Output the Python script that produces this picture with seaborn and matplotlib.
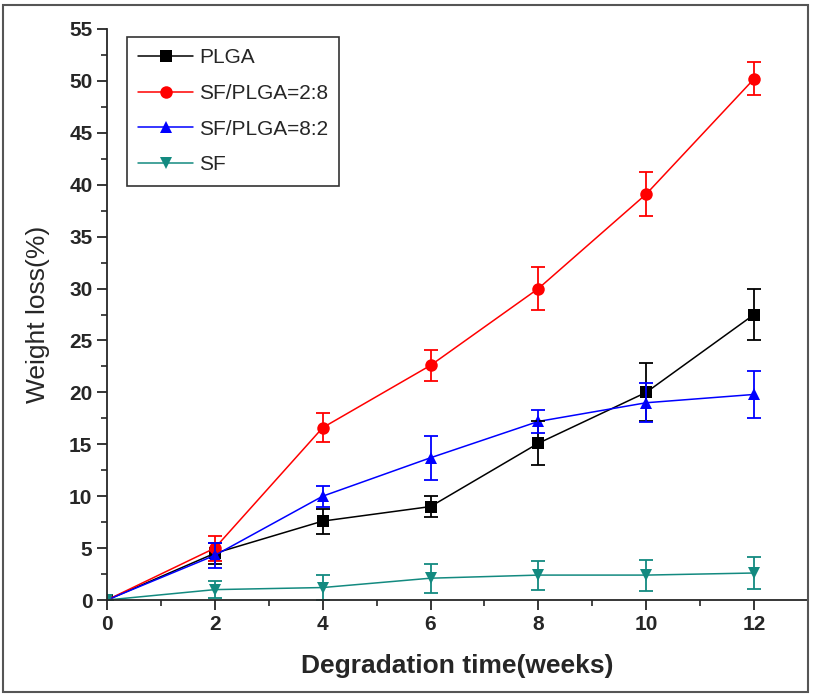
import numpy as np
import pandas as pd
import matplotlib
matplotlib.use("Agg")
import matplotlib.pyplot as plt
import seaborn as sns
from matplotlib.patches import Rectangle
from matplotlib.ticker import MultipleLocator
from matplotlib.lines import Line2D

weeks = [0, 2, 4, 6, 8, 10, 12]
series_names = ["PLGA", "SF/PLGA=2:8", "SF/PLGA=8:2", "SF"]
plga = [0, 4.5, 7.6, 9.0, 15.1, 20.0, 27.5]
plga_err = [0, 1.0, 1.2, 1.0, 2.1, 2.8, 2.5]
sf_plga_28 = [0, 5.0, 16.6, 22.6, 30.0, 39.1, 50.2]
sf_plga_28_err = [0, 1.2, 1.4, 1.5, 2.1, 2.1, 1.6]
sf_plga_82 = [0, 4.3, 10.0, 13.7, 17.2, 19.0, 19.8]
sf_plga_82_err = [0, 1.2, 1.0, 2.1, 1.1, 1.9, 2.3]
sf = [0, 1.0, 1.2, 2.1, 2.4, 2.4, 2.6]
sf_err = [0, 0.8, 1.2, 1.4, 1.4, 1.5, 1.5]

values = [plga, sf_plga_28, sf_plga_82, sf]
errors = [plga_err, sf_plga_28_err, sf_plga_82_err, sf_err]
colors = ["#000000", "#ff0000", "#0000ff", "#138a80"]
markers = ["s", "o", "^", "v"]

rows = []
for name, vals, errs in zip(series_names, values, errors):
    for w, v, e in zip(weeks, vals, errs):
        rows.append({"week": w, "loss": v, "err": e, "series": name})
df = pd.DataFrame(rows)

sns.set_style("ticks")
plt.rcParams["font.family"] = ["Liberation Sans", "DejaVu Sans"]

fig = plt.figure(figsize=(8.14, 6.95), dpi=100)
ax = fig.add_axes([107 / 814, 1 - 600 / 695, (808 - 107) / 814, (600 - 29) / 695])

palette = dict(zip(series_names, colors))
marker_map = dict(zip(series_names, markers))
sns.lineplot(data=df, x="week", y="loss", hue="series", style="series",
             palette=palette, markers=marker_map, dashes=False,
             markersize=9, markeredgewidth=0, linewidth=1.1, ax=ax, legend=False)

for name, c in zip(series_names, colors):
    sub = df[df["series"] == name]
    ax.errorbar(sub["week"], sub["loss"], yerr=sub["err"], fmt="none",
                ecolor=c, elinewidth=1.3, capsize=5, capthick=1.3)

ax.set_xlim(0, 13)
ax.set_ylim(0, 55)
ax.xaxis.set_major_locator(MultipleLocator(2))
ax.xaxis.set_minor_locator(MultipleLocator(1))
ax.yaxis.set_major_locator(MultipleLocator(5))
ax.yaxis.set_minor_locator(MultipleLocator(2.5))
ax.tick_params(which="major", direction="out", length=7, width=1.3, labelsize=15)
ax.tick_params(which="minor", direction="out", length=4, width=1.2)
for lab in ax.get_xticklabels() + ax.get_yticklabels():
    lab.set_fontweight("bold")
sns.despine(ax=ax)
ax.spines["left"].set_linewidth(1.3)
ax.spines["bottom"].set_linewidth(1.3)

ax.set_xlabel("Degradation time(weeks)", fontsize=19, fontweight="bold", labelpad=15)
ax.set_ylabel("Weight loss(%)", fontsize=19, labelpad=14)

handles = [Line2D([], [], color=c, marker=m, markersize=9, markeredgewidth=0, linewidth=1.1)
           for c, m in zip(colors, markers)]
leg = ax.legend(handles, series_names, loc="upper left",
                bbox_to_anchor=((127 - 107) / 701, (600 - 37) / 571), borderaxespad=0,
                fontsize=15, frameon=True, fancybox=False, edgecolor="black",
                handlelength=2.6, borderpad=0.55, labelspacing=0.8, handletextpad=0.3)
leg.get_frame().set_linewidth(1.2)

fig.patches.append(Rectangle((3 / 814, 3 / 695), 805 / 814, 687 / 695,
                             transform=fig.transFigure, fill=False,
                             edgecolor="#555555", linewidth=1.5))

fig.savefig("out.png", dpi=100)
